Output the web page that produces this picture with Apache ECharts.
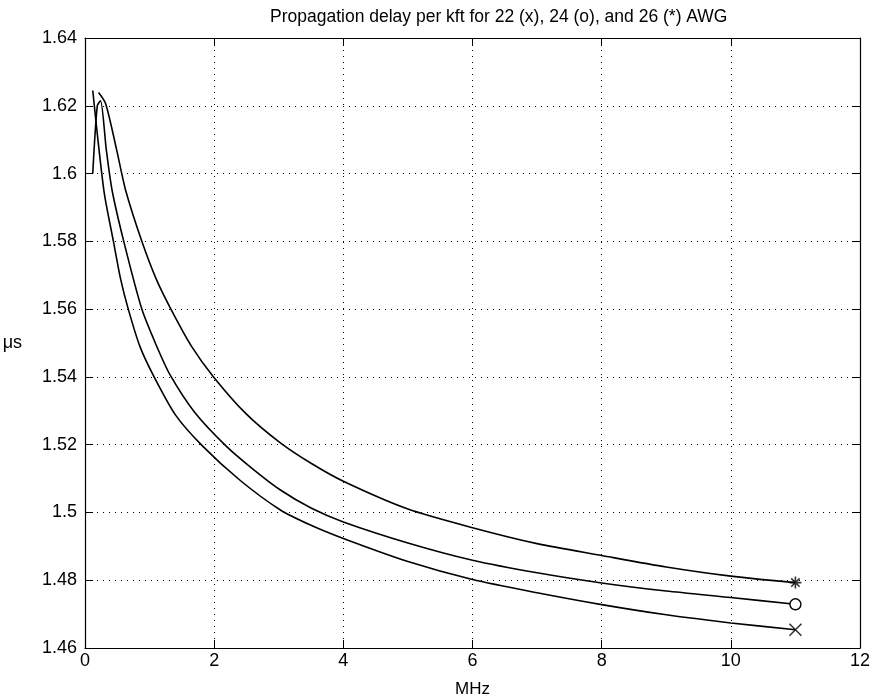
<!DOCTYPE html>
<html>
<head>
<meta charset="utf-8">
<script src="https://cdn.jsdelivr.net/npm/echarts@6/dist/echarts.min.js"></script>
<style>
  html, body { margin: 0; padding: 0; background: #fff; }
  #chart { width: 875px; height: 698px; }
</style>
</head>
<body>
<div id="chart"></div>
<script>
// frequency (MHz) and delay (us/kft)
var awg22_f = [0.12, 0.2, 0.3, 0.44, 0.55, 0.67, 0.85, 1.07, 1.4, 1.81, 2.4, 3.02, 3.5, 4, 5, 6, 7, 8, 9, 10, 11];
var awg22_d = [1.6245, 1.61, 1.594, 1.58, 1.569, 1.56, 1.549, 1.54, 1.5288, 1.5198, 1.5095, 1.5008, 1.4962, 1.4923, 1.4855, 1.4802, 1.4763, 1.4728, 1.4698, 1.4674, 1.4654];

var awg24_f = [0.12, 0.19, 0.24, 0.33, 0.42, 0.6, 0.88, 1.1, 1.32, 1.7, 2.19, 2.6, 3.02, 3.5, 4, 5, 6, 7, 8, 9, 10, 11];
var awg24_d = [1.60, 1.62, 1.6215, 1.607, 1.595, 1.58, 1.56, 1.5495, 1.5405, 1.5295, 1.5195, 1.5128, 1.5067, 1.5013, 1.4972, 1.491, 1.4859, 1.4822, 1.4792, 1.4768, 1.4749, 1.4729];

var awg26_f = [0.21, 0.32, 0.49, 0.63, 0.88, 1.1, 1.33, 1.65, 1.99, 2.5, 3.02, 3.5, 4, 5, 6, 7, 8, 9, 10, 11];
var awg26_d = [1.6239, 1.6206, 1.607, 1.595, 1.58, 1.569, 1.56, 1.549, 1.54, 1.529, 1.5206, 1.5145, 1.5092, 1.501, 1.4955, 1.4908, 1.4873, 1.4839, 1.4812, 1.4793];

var xTicks = [0, 2, 4, 6, 8, 10, 12];
var yTicks = [1.46, 1.48, 1.5, 1.52, 1.54, 1.56, 1.58, 1.6, 1.62, 1.64];

function pairs(f, d) {
  return f.map(function (x, i) { return [x, d[i]]; });
}
function last(f, d) {
  return [[f[f.length - 1], d[d.length - 1]]];
}

var chart = echarts.init(document.getElementById('chart'));
var font = 'Liberation Sans, Arial, Helvetica, sans-serif';

var xMark = 'path://M0,0L10,10M10,0L0,10';
var starMark = 'path://M5,0L5,10M0,5L10,5M1.5,1.5L8.5,8.5M8.5,1.5L1.5,8.5';

var lineStyle = { color: '#000', width: 1.6 };

var option = {
  animation: false,
  backgroundColor: '#fff',
  title: {
    text: 'Propagation delay per kft for 22 (x), 24 (o), and 26 (*) AWG',
    left: 265,
    top: 3,
    textStyle: { fontFamily: font, fontSize: 17.5, fontWeight: 'normal', color: '#000' }
  },
  grid: { left: 85, right: 15, top: 38, bottom: 50, containLabel: false, outerBoundsMode: 'none' },
  xAxis: [
    {
      type: 'value',
      min: xTicks[0],
      max: xTicks[xTicks.length - 1],
      interval: 2,
      name: 'MHz',
      nameLocation: 'middle',
      nameGap: 33,
      nameTextStyle: { fontFamily: font, fontSize: 17, color: '#000' },
      axisLine: { show: true, onZero: false, lineStyle: { color: '#000', width: 1.2 } },
      axisTick: { show: true, inside: true, length: 8, lineStyle: { color: '#000' } },
      axisLabel: { fontFamily: font, fontSize: 18, color: '#000', margin: 4 },
      splitLine: { show: true, lineStyle: { color: '#000', type: [1, 5], width: 1 } }
    },
    {
      type: 'value',
      position: 'top',
      min: xTicks[0],
      max: xTicks[xTicks.length - 1],
      interval: 2,
      axisLine: { show: true, onZero: false, lineStyle: { color: '#000', width: 1.2 } },
      axisTick: { show: true, inside: true, length: 8, lineStyle: { color: '#000' } },
      axisLabel: { show: false },
      splitLine: { show: false }
    }
  ],
  yAxis: [
    {
      type: 'value',
      min: yTicks[0],
      max: yTicks[yTicks.length - 1],
      interval: 0.02,
      name: 'μs',
      nameLocation: 'middle',
      nameGap: 63,
      nameRotate: 0,
      nameTextStyle: { fontFamily: font, fontSize: 18, color: '#000' },
      axisLine: { show: true, onZero: false, lineStyle: { color: '#000', width: 1.2 } },
      axisTick: { show: true, inside: true, length: 8, lineStyle: { color: '#000' } },
      axisLabel: {
        fontFamily: font, fontSize: 18, color: '#000', margin: 8,
        formatter: function (v) { return String(parseFloat(v.toFixed(2))); }
      },
      splitLine: { show: true, lineStyle: { color: '#000', type: [1, 5], width: 1 } }
    },
    {
      type: 'value',
      position: 'right',
      min: yTicks[0],
      max: yTicks[yTicks.length - 1],
      interval: 0.02,
      axisLine: { show: true, onZero: false, lineStyle: { color: '#000', width: 1.2 } },
      axisTick: { show: true, inside: true, length: 8, lineStyle: { color: '#000' } },
      axisLabel: { show: false },
      splitLine: { show: false }
    }
  ],
  series: [
    { name: '22 AWG', type: 'line', data: pairs(awg22_f, awg22_d), smooth: 0.25, symbol: 'none', lineStyle: lineStyle },
    { name: '24 AWG', type: 'line', data: pairs(awg24_f, awg24_d), smooth: 0.25, symbol: 'none', lineStyle: lineStyle },
    { name: '26 AWG', type: 'line', data: pairs(awg26_f, awg26_d), smooth: 0.25, symbol: 'none', lineStyle: lineStyle },
    {
      type: 'scatter', data: last(awg22_f, awg22_d), symbol: xMark, symbolSize: 12, z: 5,
      itemStyle: { color: 'rgba(0,0,0,0)', borderColor: '#000', borderWidth: 1.6 }
    },
    {
      type: 'scatter', data: last(awg24_f, awg24_d), symbol: 'circle', symbolSize: 11, z: 5,
      itemStyle: { color: '#fff', borderColor: '#000', borderWidth: 1.4, opacity: 1 }
    },
    {
      type: 'scatter', data: last(awg26_f, awg26_d), symbol: starMark, symbolSize: 12, z: 5,
      itemStyle: { color: 'rgba(0,0,0,0)', borderColor: '#000', borderWidth: 1.6 }
    }
  ]
};

option && chart.setOption(option);
</script>
</body>
</html>
